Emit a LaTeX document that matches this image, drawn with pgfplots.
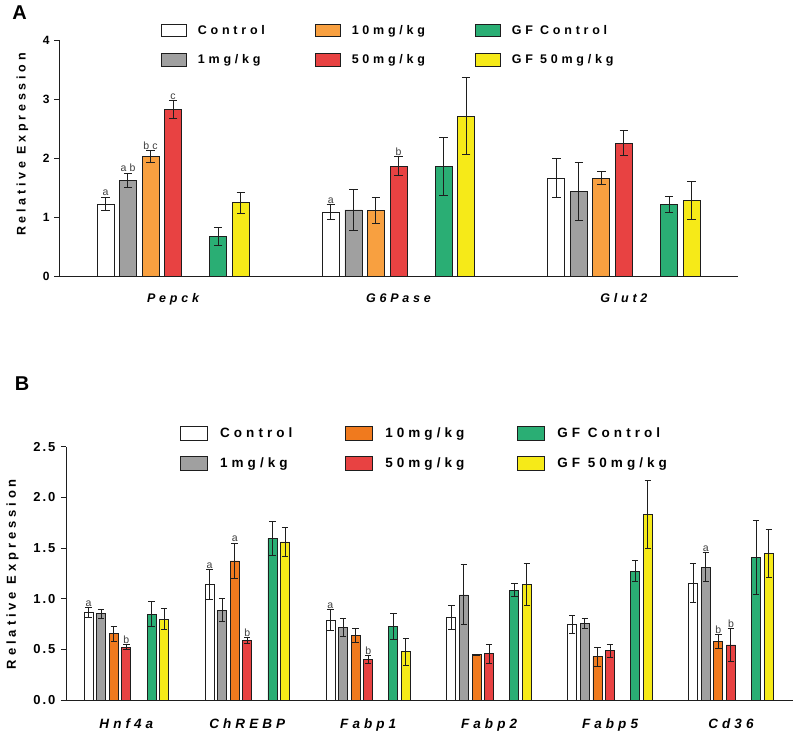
\documentclass[border=0pt]{standalone}
\usepackage{pgfplots}
\pgfplotsset{compat=1.18}
\usepackage{fontspec}
\setmainfont{Liberation Sans}
\newfontfamily\spfont[LetterSpace=30]{Liberation Sans}
\newfontfamily\sptfont[LetterSpace=15]{Liberation Sans}

\definecolor{cgray}{RGB}{160,160,160}
\definecolor{corangeA}{RGB}{248,160,64}
\definecolor{corangeB}{RGB}{240,122,30}
\definecolor{cred}{RGB}{232,66,66}
\definecolor{cgreen}{RGB}{42,174,116}
\definecolor{cyellow}{RGB}{246,234,24}
\definecolor{cline}{RGB}{30,30,30}

\pgfplotsset{
  swatchA/.style={legend image code/.code={\draw[##1,draw=cline,line width=0.9pt] (0pt,-6.25pt) rectangle (25pt,6.25pt);}},
  swatchB/.style={legend image code/.code={\draw[##1,draw=cline,line width=0.9pt] (0pt,-7pt) rectangle (27pt,7pt);}},
  mybars/.style={
    scale only axis,
    axis lines*=left,
    axis line style={cline, line width=0.9pt},
    ybar, bar shift=0pt,
    error bars/y dir=both, error bars/y explicit,
    error bars/error bar style={line width=1pt, cline},
    tick align=outside,
    ytick style={cline, line width=0.9pt},
    major tick length=5pt,
    xtick style={draw=none},
    legend columns=3,
    legend cell align=left,
  },
}
\newcommand{\lab}[1]{{\spfont\fontsize{10.5}{11}\selectfont\color{black!75}#1}}

\begin{document}
\begin{tikzpicture}[x=1pt,y=1pt]
\path[use as bounding box] (0,0) rectangle (800,739);
\node[font=\bfseries\fontsize{20}{20}\selectfont] at (19.5,726.5) {A};
\node[font=\bfseries\fontsize{20}{20}\selectfont] at (22,355.5) {B};

% ---------------- Panel A ----------------
\begin{axis}[mybars,
  at={(59pt,463pt)}, anchor=south west,
  width=679pt, height=236pt,
  xmin=-2.06, xmax=28.06, ymin=0, ymax=4,
  ytick={0,1,2,3,4}, yticklabels={0,1,2,3,4},
  yticklabel style={font=\sptfont\bfseries\fontsize{12}{12}\selectfont, xshift=-1pt},
  xtick={3,13,23}, xticklabels={Pepck,G6Pase,Glut2},
  xticklabel style={font=\spfont\bfseries\itshape\fontsize{12.5}{13}\selectfont, yshift=-9pt},
  ylabel={Relative Expression},
  ylabel style={font=\spfont\bfseries\fontsize{12.5}{13}\selectfont, at={(axis description cs:-0.0538,0.557)}, anchor=center},
  bar width=17pt,
  error bars/error mark options={rotate=90, mark size=4.2pt, line width=1pt, cline},
  every axis plot post/.append style={swatchA},
  legend style={at={(axis description cs:0.150,1.072)}, anchor=north west, draw=none, fill=none, inner sep=0pt,
    font=\spfont\bfseries\fontsize{12.5}{13}\selectfont, row sep=15pt,
    nodes={inner sep=2pt},
    /tikz/every even column/.append style={column sep=48pt},
    /tikz/every odd column/.append style={column sep=9pt}},
]
\addplot[fill=white, draw=cline, line width=0.8pt] coordinates {(0,1.22) +- (0,0.115) (10,1.08) +- (0,0.13) (20,1.66) +- (0,0.335)};
\addplot[fill=corangeA, draw=cline, line width=0.8pt] coordinates {(2,2.03) +- (0,0.10) (12,1.11) +- (0,0.215) (22,1.66) +- (0,0.105)};
\addplot[fill=cgreen, draw=cline, line width=0.8pt] coordinates {(5,0.67) +- (0,0.16) (15,1.85) +- (0,0.49) (25,1.21) +- (0,0.13)};
\addplot[fill=cgray, draw=cline, line width=0.8pt] coordinates {(1,1.62) +- (0,0.125) (11,1.12) +- (0,0.345) (21,1.43) +- (0,0.49)};
\addplot[fill=cred, draw=cline, line width=0.8pt] coordinates {(3,2.82) +- (0,0.155) (13,1.86) +- (0,0.16) (23,2.25) +- (0,0.21)};
\addplot[fill=cyellow, draw=cline, line width=0.8pt] coordinates {(6,1.24) +- (0,0.175) (16,2.71) +- (0,0.65) (26,1.28) +- (0,0.325)};
\legend{Control,10mg/kg,GF Control,1mg/kg,50mg/kg,GF 50mg/kg}
\node[anchor=south, inner sep=1pt] at (axis cs:0,1.335) {\lab{a}};
\node[anchor=south, inner sep=1pt] at (axis cs:1,1.745) {\lab{ab}};
\node[anchor=south, inner sep=1pt] at (axis cs:2,2.13) {\lab{bc}};
\node[anchor=south, inner sep=1pt] at (axis cs:3,2.975) {\lab{c}};
\node[anchor=south, inner sep=1pt] at (axis cs:10,1.21) {\lab{a}};
\node[anchor=south, inner sep=1pt] at (axis cs:13,2.02) {\lab{b}};
\end{axis}

% ---------------- Panel B ----------------
\begin{axis}[mybars,
  at={(66pt,39pt)}, anchor=south west,
  width=726.7pt, height=253.3pt,
  xmin=-1.79, xmax=55.9, ymin=0, ymax=2.5,
  ytick={0,0.5,1,1.5,2,2.5}, yticklabels={0.0,0.5,1.0,1.5,2.0,2.5},
  yticklabel style={font=\sptfont\bfseries\fontsize{13}{13}\selectfont, xshift=-2pt},
  xtick={3,12.6,22.2,31.8,41.4,51}, xticklabels={Hnf4a,ChREBP,Fabp1,Fabp2,Fabp5,Cd36},
  xticklabel style={font=\spfont\bfseries\itshape\fontsize{13.5}{14}\selectfont, yshift=-10pt},
  ylabel={Relative Expression},
  ylabel style={font=\spfont\bfseries\fontsize{13}{14}\selectfont, at={(axis description cs:-0.0736,0.497)}, anchor=center},
  bar width=9pt,
  error bars/error mark options={rotate=90, mark size=3.2pt, line width=1pt, cline},
  every axis plot post/.append style={swatchB},
  legend style={at={(axis description cs:0.1569,1.084)}, anchor=north west, draw=none, fill=none, inner sep=0pt,
    font=\spfont\bfseries\fontsize{13.5}{14}\selectfont, row sep=15pt,
    nodes={inner sep=2pt},
    /tikz/every even column/.append style={column sep=51pt},
    /tikz/every odd column/.append style={column sep=10pt}},
]
\addplot[fill=white, draw=cline, line width=0.8pt] coordinates {(0,0.86) +- (0,0.05) (9.6,1.14) +- (0,0.146) (19.2,0.79) +- (0,0.10) (28.8,0.816) +- (0,0.118) (38.4,0.747) +- (0,0.09) (48,1.155) +- (0,0.193)};
\addplot[fill=corangeB, draw=cline, line width=0.8pt] coordinates {(2,0.655) +- (0,0.075) (11.6,1.372) +- (0,0.175) (21.2,0.635) +- (0,0.07) (30.8,0.448) +- (0,0.005) (40.4,0.428) +- (0,0.093) (50,0.576) +- (0,0.069)};
\addplot[fill=cgreen, draw=cline, line width=0.8pt] coordinates {(5,0.846) +- (0,0.122) (14.6,1.596) +- (0,0.165) (24.2,0.727) +- (0,0.13) (33.8,1.083) +- (0,0.065) (43.4,1.27) +- (0,0.103) (53,1.408) +- (0,0.366)};
\addplot[fill=cgray, draw=cline, line width=0.8pt] coordinates {(1,0.85) +- (0,0.047) (10.6,0.888) +- (0,0.112) (20.2,0.714) +- (0,0.09) (29.8,1.037) +- (0,0.296) (39.4,0.757) +- (0,0.051) (49,1.31) +- (0,0.145)};
\addplot[fill=cred, draw=cline, line width=0.8pt] coordinates {(3,0.523) +- (0,0.023) (12.6,0.586) +- (0,0.032) (22.2,0.40) +- (0,0.038) (31.8,0.457) +- (0,0.095) (41.4,0.487) +- (0,0.065) (51,0.543) +- (0,0.163)};
\addplot[fill=cyellow, draw=cline, line width=0.8pt] coordinates {(6,0.796) +- (0,0.105) (15.6,1.56) +- (0,0.143) (25.2,0.477) +- (0,0.132) (34.8,1.139) +- (0,0.208) (44.4,1.83) +- (0,0.339) (54,1.445) +- (0,0.238)};
\legend{Control,10mg/kg,GF Control,1mg/kg,50mg/kg,GF 50mg/kg}
\node[anchor=south, inner sep=1pt] at (axis cs:0,0.91) {\lab{a}};
\node[anchor=south, inner sep=1pt] at (axis cs:3,0.546) {\lab{b}};
\node[anchor=south, inner sep=1pt] at (axis cs:9.6,1.286) {\lab{a}};
\node[anchor=south, inner sep=1pt] at (axis cs:11.6,1.547) {\lab{a}};
\node[anchor=south, inner sep=1pt] at (axis cs:12.6,0.618) {\lab{b}};
\node[anchor=south, inner sep=1pt] at (axis cs:19.2,0.89) {\lab{a}};
\node[anchor=south, inner sep=1pt] at (axis cs:22.2,0.438) {\lab{b}};
\node[anchor=south, inner sep=1pt] at (axis cs:49,1.455) {\lab{a}};
\node[anchor=south, inner sep=1pt] at (axis cs:50,0.645) {\lab{b}};
\node[anchor=south, inner sep=1pt] at (axis cs:51,0.706) {\lab{b}};
\end{axis}
\end{tikzpicture}
\end{document}
